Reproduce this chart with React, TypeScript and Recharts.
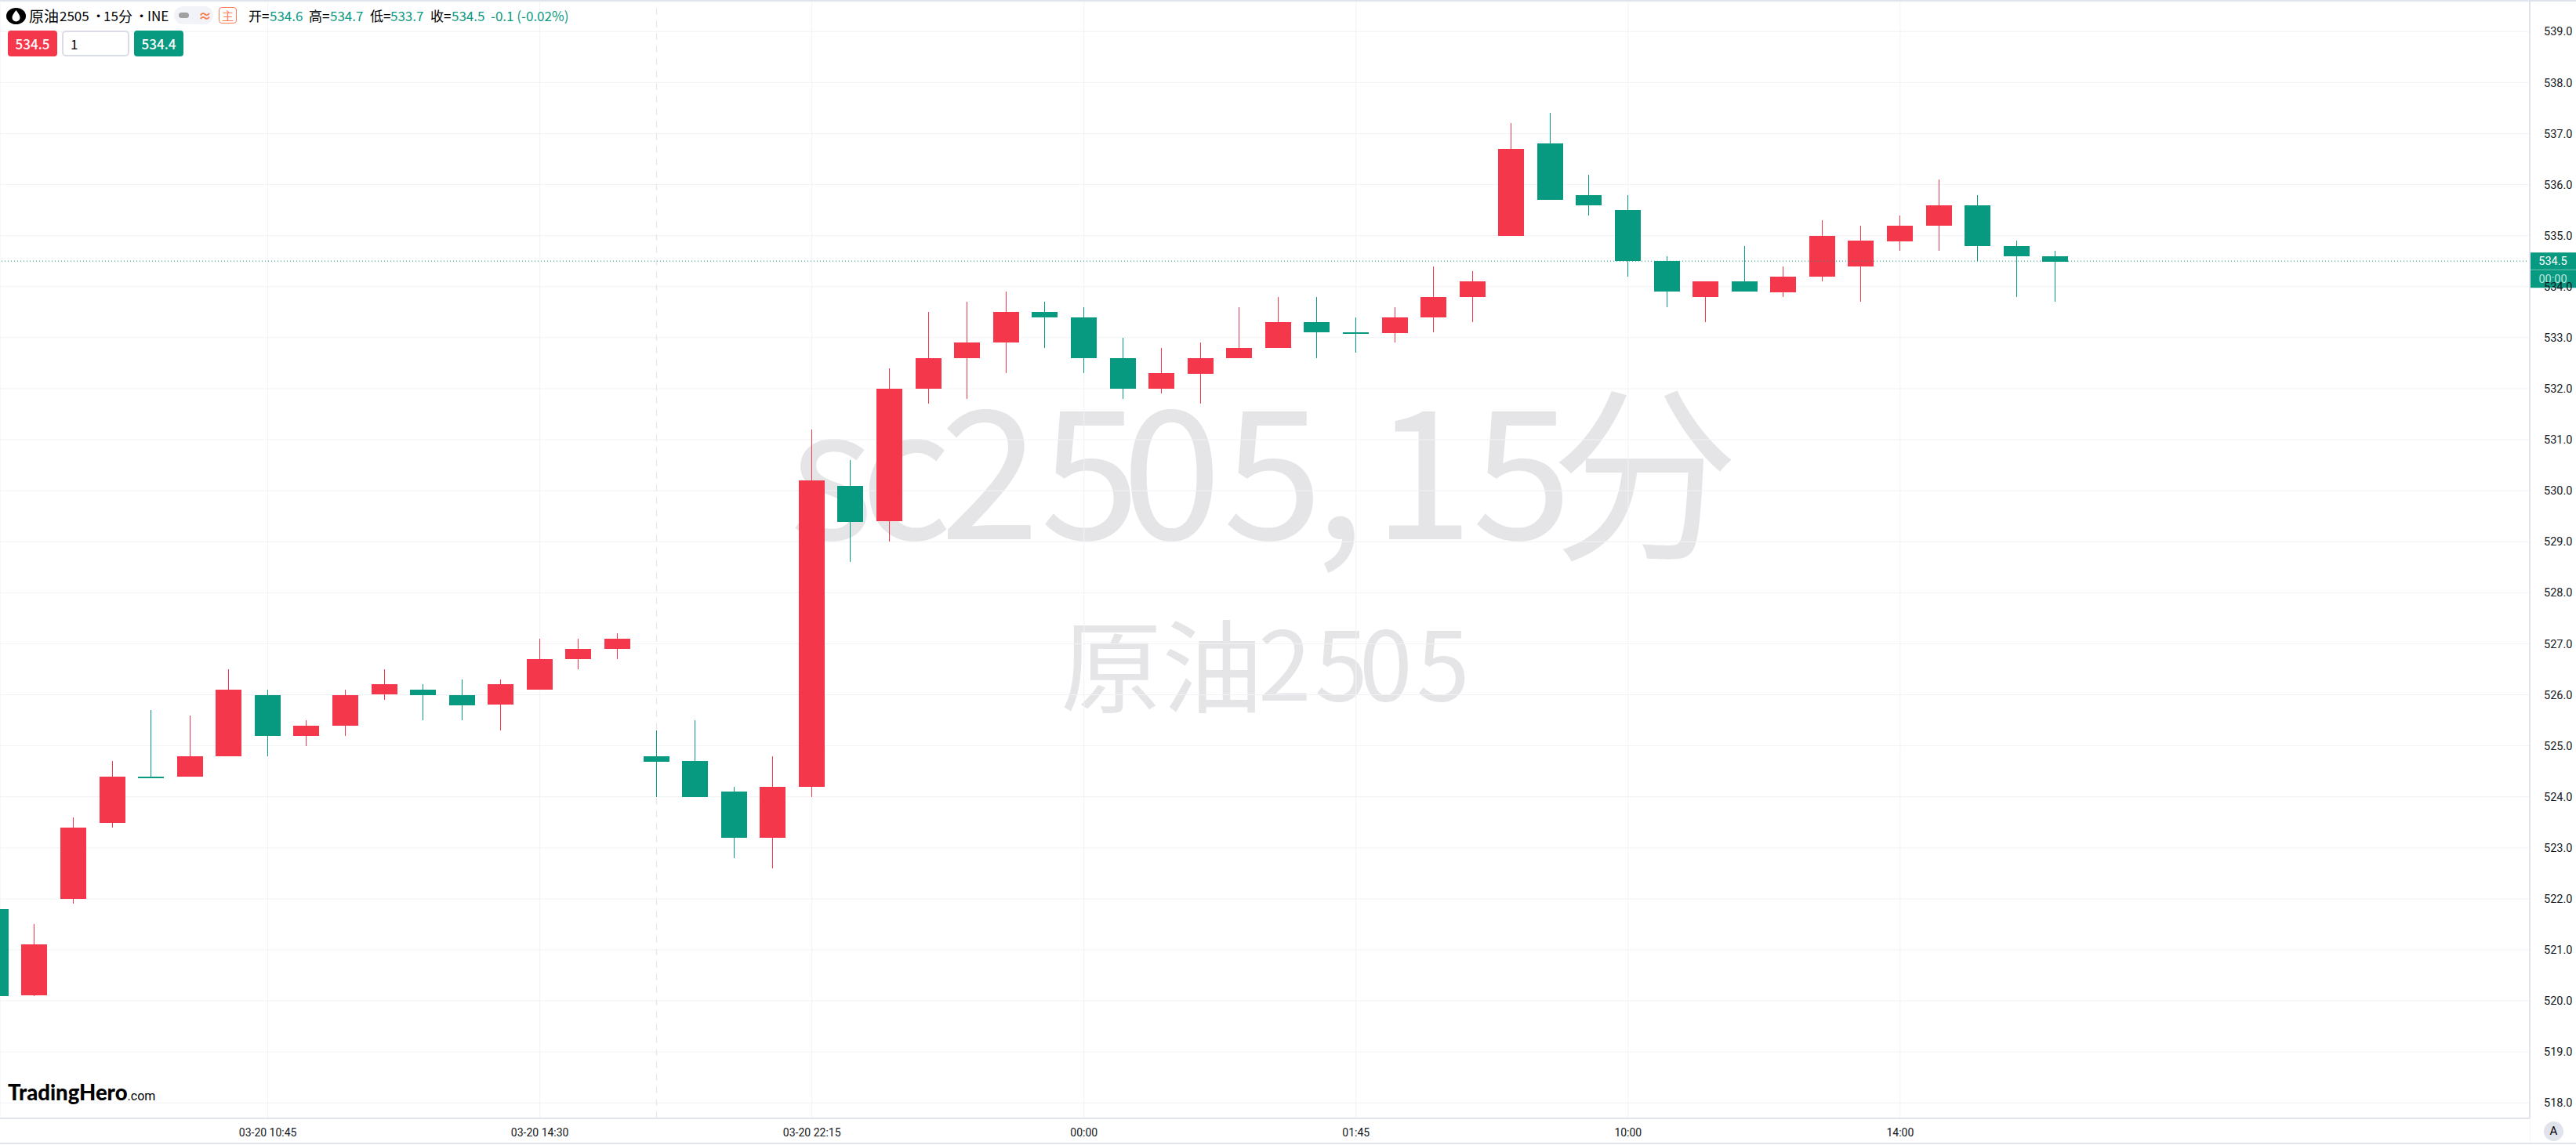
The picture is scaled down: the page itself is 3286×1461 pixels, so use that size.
import React from 'react';
import { ComposedChart, Bar, XAxis, YAxis, CartesianGrid, ReferenceLine } from 'recharts';

const opens = [521.8,520.1,522.0,523.5,524.4,524.4,524.8,526.0,525.2,525.4,526.0,526.1,526.0,525.8,526.1,526.7,526.9,524.8,524.7,524.1,523.2,524.2,530.1,529.4,532.0,532.6,532.9,533.5,533.4,532.6,532.0,532.3,532.6,532.8,533.3,533.1,533.1,533.4,533.8,535.0,536.8,535.8,535.5,534.5,533.8,534.1,533.9,534.2,534.4,534.9,535.2,535.6,534.8,534.6];
const highs = [521.8,521.5,523.6,524.7,525.7,525.6,526.5,526.1,525.5,526.1,526.5,526.2,526.3,526.3,527.1,527.1,527.2,525.3,525.5,524.2,524.8,531.2,530.6,532.4,533.5,533.7,533.9,533.7,533.6,533.0,532.8,532.9,533.6,533.8,533.8,533.4,533.6,534.4,534.3,537.2,537.4,536.2,535.8,534.6,534.1,534.8,534.4,535.3,535.2,535.4,536.1,535.8,534.9,534.7];
const lows = [520.1,520.1,521.9,523.4,524.4,524.4,524.8,524.8,525.0,525.2,525.9,525.5,525.5,525.3,526.1,526.5,526.7,524.0,524.0,522.8,522.6,524.0,528.6,529.0,531.7,531.8,532.3,532.8,532.3,531.8,531.9,531.7,532.6,532.8,532.6,532.7,532.9,533.1,533.3,535.0,535.7,535.4,534.2,533.6,533.3,533.9,533.8,534.1,533.7,534.7,534.7,534.5,533.8,533.7];
const closes = [520.1,521.1,523.4,524.4,524.4,524.8,526.1,525.2,525.4,526.0,526.2,526.0,525.8,526.2,526.7,526.9,527.1,524.7,524.0,523.2,524.2,530.2,529.4,532.0,532.6,532.9,533.5,533.4,532.6,532.0,532.3,532.6,532.8,533.3,533.1,533.1,533.4,533.8,534.1,536.7,535.7,535.6,534.5,533.9,534.1,533.9,534.2,535.0,534.9,535.2,535.6,534.8,534.6,534.5];

const priceTicks = [518,519,520,521,522,523,524,525,526,527,528,529,530,531,532,533,534,535,536,537,538,539];
const timeTickIndex = [7,14,21,28,35,42,49];
const timeTickLabels = ['03-20 10:45','03-20 14:30','03-20 22:15','00:00','01:45','10:00','14:00'];
const sessionBreakIndex = 17;
const lastPrice = 534.5;
const lastPriceLabel = '534.5';
const countdownLabel = '00:00';

const UP = '#F5374B';
const DOWN = '#089981';
const FRAME = '#E0E3EB';
const GRID = '#F1F2F5';
const ORANGE = '#FA7D52';
const MARK = '#E5E5E8';
const FONT = 'Roboto, "Noto Sans CJK SC", sans-serif';
const CJK = '"Noto Sans CJK SC", sans-serif';

const table = opens.map((open, i) => ({ i, open, high: highs[i], low: lows[i], close: closes[i] }));

function Candle(props: any) {
  const { x, y, width, height, payload } = props;
  const { open, close, high, low } = payload;
  const k = height / (high - low);
  const color = close > open ? UP : DOWN;
  const top = Math.round(y + (high - Math.max(open, close)) * k);
  const h = Math.max(Math.round(Math.abs(open - close) * k), 2);
  const left = Math.round(x);
  const cx = left + Math.floor(width / 2) + 0.5;
  return (
    <g>
      <line x1={cx} x2={cx} y1={Math.round(y)} y2={Math.round(y + height)} stroke={color} strokeWidth={1} />
      <rect x={left} y={top} width={Math.round(width)} height={h} fill={color} />
    </g>
  );
}

function PriceBox(props: any) {
  const { viewBox } = props;
  const x = viewBox.x + viewBox.width;
  const y = viewBox.y;
  return (
    <g>
      <rect x={x} y={y - 11} width={59} height={45} fill={DOWN} />
      <line x1={x} x2={x + 59} y1={y + 11} y2={y + 11} stroke="#6CC4B2" strokeWidth={1} />
      <text x={x + 29.5} y={y + 5} textAnchor="middle" fill="#fff" fontSize={14.5} fontFamily={FONT}>{lastPriceLabel}</text>
      <text x={x + 29.5} y={y + 28} textAnchor="middle" fill="#BFE5DD" fontSize={14.5} fontFamily={FONT}>{countdownLabel}</text>
    </g>
  );
}

const abs = (left: number, top: number, extra: React.CSSProperties = {}): React.CSSProperties => ({
  position: 'absolute', left, top, whiteSpace: 'nowrap', ...extra,
});

function HeaderText({ left, text, color = '#000', size = 17, weight = 400 }: { left: number; text: string; color?: string; size?: number; weight?: number }) {
  return <span style={abs(left, 9, { color, fontSize: size, fontWeight: weight, lineHeight: '22px', fontFamily: CJK })}>{text}</span>;
}

function PriceButton({ left, width, text, color }: { left: number; width: number; text: string; color: string }) {
  return <div style={abs(left, 39, { width, height: 33, borderRadius: 4, background: color, color: '#fff', fontSize: 17, fontWeight: 500, lineHeight: '33px', textAlign: 'center', fontFamily: CJK })}>{text}</div>;
}

export default function App() {
  return (
    <div style={{ position: 'absolute', left: 0, top: 0, width: 3286, height: 1461, background: '#fff', overflow: 'hidden' }}>
      {/* watermark */}
      <svg style={abs(0, 0)} width={3286} height={1461}>
        <g fill={MARK} fontFamily={CJK}>
          <text x="1007 1097 1199 1327 1431 1560 1677 1752 1878" y={688} fontSize={229}>sc2505,15</text>
          <text x={1978} y={696} fontSize={240}>分</text>
          <text x="1353 1482" y={900} fontSize={129}>原油</text>
          <text x="1605 1677 1734 1807" y={894} fontSize={122}>2505</text>
        </g>
      </svg>

      <div style={abs(0, 0, { width: 3286, height: 2, background: FRAME })} />
      <div style={abs(0, 1458, { width: 3286, height: 2, background: FRAME })} />
      <div style={abs(3227, 1428, { width: 1, height: 30, background: '#F4F5F8' })} />

      <div style={abs(0, 0)}>
        <ComposedChart width={3286} height={1459} data={table} margin={{ top: 2, right: 0, bottom: 0, left: 0 }}>
          <CartesianGrid stroke={GRID} strokeWidth={1} />
          <XAxis
            dataKey="i"
            type="number"
            domain={[0.109, 65.2]}
            allowDataOverflow
            ticks={timeTickIndex}
            tickFormatter={(v: number) => timeTickLabels[timeTickIndex.indexOf(v)]}
            tick={{ fill: '#131722', fontSize: 14, fontFamily: FONT }}
            tickLine={false}
            tickMargin={7}
            axisLine={{ stroke: FRAME, strokeWidth: 2 }}
            height={32}
            interval={0}
          />
          <YAxis
            orientation="right"
            type="number"
            domain={[517.697, 539.588]}
            allowDataOverflow
            ticks={priceTicks}
            tickFormatter={(v: number) => v.toFixed(1)}
            tick={{ fill: '#131722', fontSize: 14.5, fontFamily: FONT }}
            tickLine={false}
            tickMargin={12}
            axisLine={{ stroke: FRAME, strokeWidth: 2 }}
            width={59}
            interval={0}
          />
          <ReferenceLine x={sessionBreakIndex} stroke={FRAME} strokeDasharray="8 8" zIndex={100} />
          <Bar dataKey={(d: any) => [d.low, d.high]} barSize={33} shape={<Candle />} isAnimationActive={false} />
          <ReferenceLine y={lastPrice} stroke={DOWN} strokeDasharray="1 3" label={<PriceBox />} />
        </ComposedChart>
      </div>

      {/* header */}
      <svg style={abs(8, 10)} width={25} height={21} viewBox="0 0 25 21">
        <ellipse cx={12.5} cy={10.5} rx={12.5} ry={10.5} fill="#000" />
        <path d="M12.5 3 C15.5 7 17.5 9.5 17.5 12.5 A5 5 0 0 1 7.5 12.5 C7.5 9.5 9.5 7 12.5 3 Z" fill="#fff" />
      </svg>
      <HeaderText left={37} text="原油" size={19} />
      <HeaderText left={76} text="2505" />
      <HeaderText left={117} text="•" />
      <HeaderText left={132} text="15" />
      <HeaderText left={151} text="分" size={18} />
      <HeaderText left={172} text="•" />
      <HeaderText left={188} text="INE" />

      <div style={abs(222, 8, { width: 50, height: 23, borderRadius: 12, background: '#F2F2F9' })} />
      <div style={abs(228, 16, { width: 13, height: 7, borderRadius: 4, background: '#A0A0A0' })} />
      <span style={abs(253, 8, { fontSize: 17, lineHeight: '23px', color: ORANGE, fontFamily: CJK, fontWeight: 700 })}>≈</span>
      <div style={abs(279, 9, { width: 21, height: 19, border: `1px solid ${ORANGE}`, borderRadius: 4, color: ORANGE, fontSize: 15, lineHeight: '19px', textAlign: 'center', fontFamily: CJK })}>主</div>
      <HeaderText left={317} text="开=" />
      <HeaderText left={344} text="534.6" color={DOWN} />
      <HeaderText left={394} text="高=" />
      <HeaderText left={421} text="534.7" color={DOWN} />
      <HeaderText left={472} text="低=" />
      <HeaderText left={498} text="533.7" color={DOWN} />
      <HeaderText left={549} text="收=" />
      <HeaderText left={576} text="534.5" color={DOWN} />
      <HeaderText left={626} text="-0.1 (-0.02%)" color={DOWN} />

      <PriceButton left={10} width={63} text="534.5" color={UP} />
      <div style={abs(79, 39, { width: 86, height: 33, boxSizing: 'border-box', border: '2px solid #DADDE6', borderRadius: 5, background: '#fff', color: '#000', fontSize: 17, lineHeight: '29px', paddingLeft: 9, fontFamily: CJK })}>1</div>
      <PriceButton left={171} width={63} text="534.4" color={DOWN} />

      {/* logo */}
      <span style={abs(10, 1377, { fontSize: 27.5, lineHeight: '34px', fontWeight: 900, color: '#000', fontFamily: 'Lato, sans-serif' })}>TradingHero<span style={{ fontSize: 16, fontWeight: 400, fontFamily: 'Roboto, sans-serif' }}>.com</span></span>

      {/* auto-scale button */}
      <div style={abs(3245, 1431, { width: 25, height: 25, borderRadius: 13, background: FRAME, color: '#000', fontSize: 15, lineHeight: '25px', textAlign: 'center', fontFamily: FONT })}>A</div>
    </div>
  );
}
